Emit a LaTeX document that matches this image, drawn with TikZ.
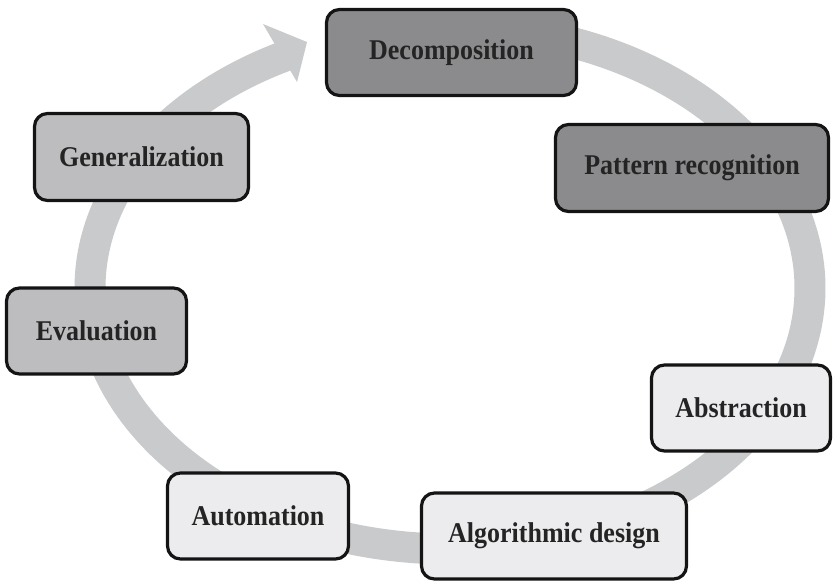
\documentclass[tikz,border=0pt]{standalone}
\usepackage{graphicx}
\usepackage{fontspec}
\setmainfont{Liberation Serif}
\definecolor{darkstage}{HTML}{8B8B8D}
\definecolor{midstage}{HTML}{BDBDBF}
\definecolor{lightstage}{HTML}{ECECEE}
\definecolor{ringgray}{HTML}{C9CACC}
\definecolor{labelink}{HTML}{242424}
% stage labels are set slightly tall
\newcommand\stagelabel[1]{\scalebox{1}[1.1]{#1}}
\begin{document}
\begin{tikzpicture}[x=1pt,y=-1pt,
  stage/.style={draw=black!92, line width=3.2pt, rounded corners=13pt,
    minimum height=86pt, inner sep=0pt,
    font=\fontsize{26}{30}\selectfont\bfseries, text=labelink},
  darkbox/.style={stage, fill=darkstage},
  midbox/.style={stage, fill=midstage},
  lightbox/.style={stage, fill=lightstage},
  ringband/.style={draw=ringgray, line width=31pt, line join=round}]
\useasboundingbox (0,0) rectangle (835,584);

% circular cycle band, running clockwise from the top
\draw[ringband] plot[domain=-90:243, samples=240, smooth]
  ({450+360*cos(\x)},{288+261*sin(\x)});
% arrowhead closing the cycle
\fill[ringgray] (263,24) -- (307,42) -- (297,82) -- cycle;

% stages of the cycle
\node[darkbox,  minimum width=250pt] (dec) at (451.5,52.5) {\stagelabel{Decomposition}};
\node[darkbox,  minimum width=273pt, minimum height=87pt] (pat) at (692,168) {\stagelabel{Pattern recognition}};
\node[lightbox, minimum width=179pt] (abs) at (741,408) {\stagelabel{Abstraction}};
\node[lightbox, minimum width=265pt] (alg) at (554,536) {\stagelabel{Algorithmic design}};
\node[lightbox, minimum width=181pt] (aut) at (258,516) {\stagelabel{Automation}};
\node[midbox,   minimum width=180pt] (eva) at (96.5,331) {\stagelabel{Evaluation}};
\node[midbox,   minimum width=214pt, minimum height=87pt] (gen) at (141.5,157) {\stagelabel{Generalization}};
\end{tikzpicture}
\end{document}
